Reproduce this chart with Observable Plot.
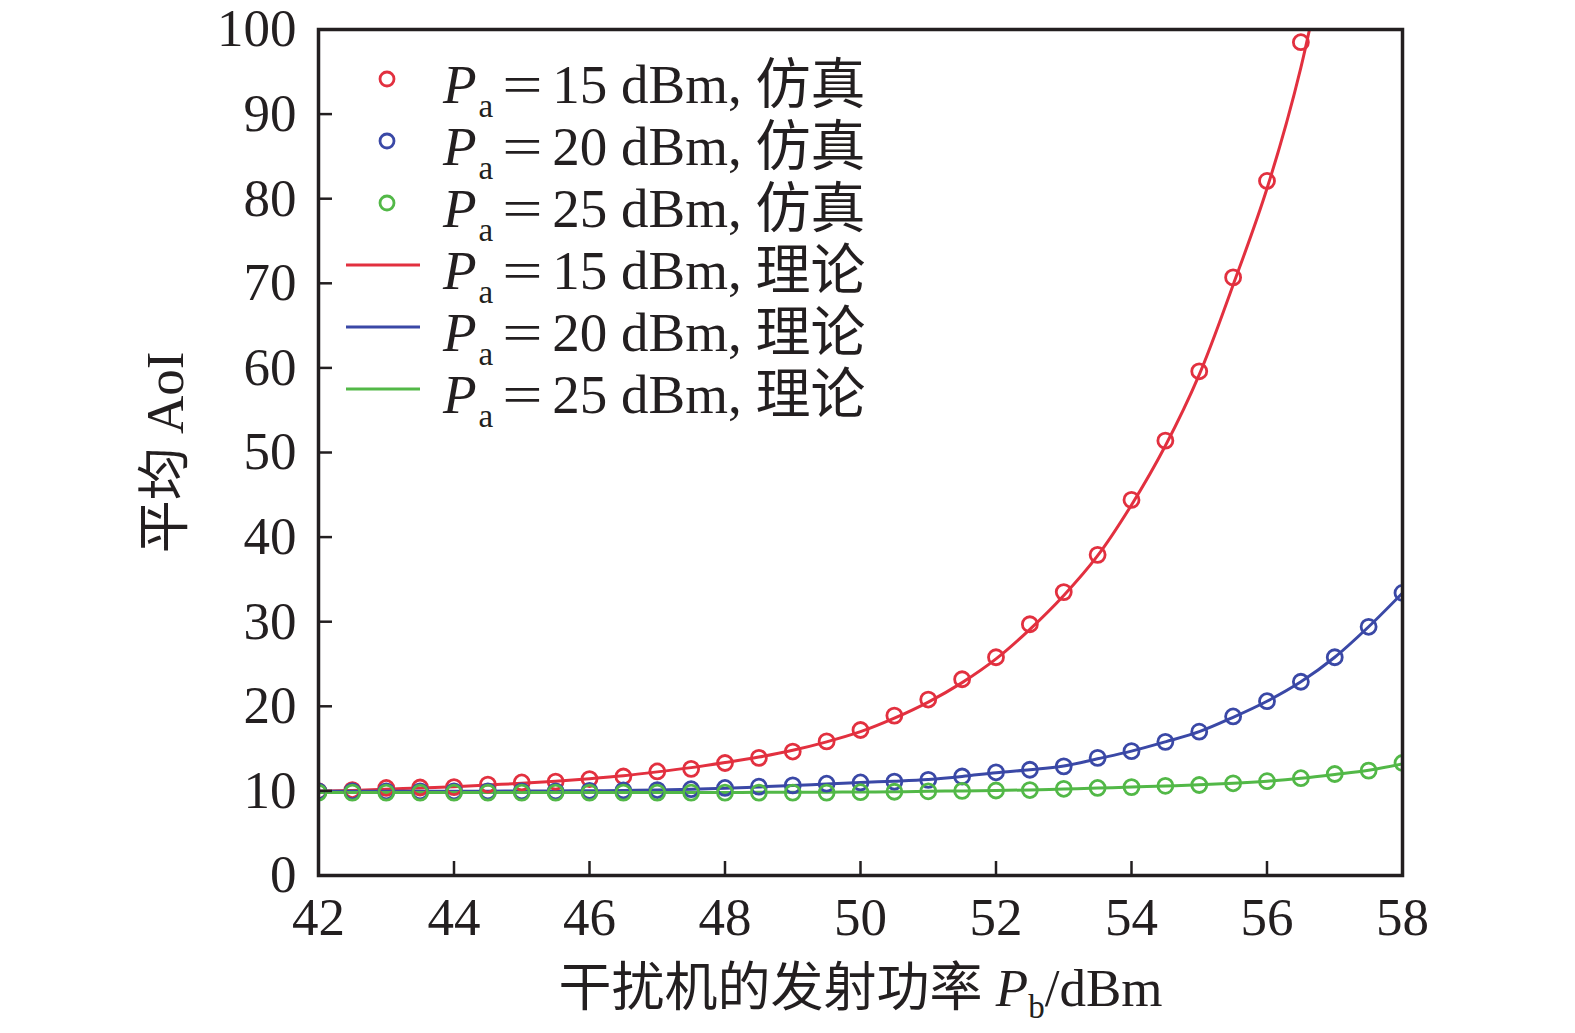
<!DOCTYPE html>
<html>
<head>
<meta charset="utf-8">
<script src="https://cdn.jsdelivr.net/npm/d3@7"></script>
<script src="https://cdn.jsdelivr.net/npm/@observablehq/plot@0.6"></script>
<style>
  html, body { margin: 0; padding: 0; background: #fff; }
  #wrap { position: relative; width: 1575px; height: 1033px; }
  #wrap svg { overflow: visible; }
  #legend { position: absolute; left: 340px; top: 48px; font-family: "Liberation Serif", "Noto Sans CJK SC", serif; font-size: 55px; color: #231f20; }
  #legend .row { height: 62px; display: flex; align-items: center; white-space: nowrap; }
  #legend svg { width: 103px; height: 62px; flex: none; }
  #legend .P { font-style: italic; }
  #legend sub { font-size: 33px; vertical-align: -14px; line-height: 0; margin-left: 2px; margin-right: 14px; }
  #legend .eq { display: inline-block; transform: scaleX(1.3); margin-right: 14px; }
</style>
</head>
<body>
<div id="wrap"></div>
<script>
const pb = [42,42.5,43,43.5,44,44.5,45,45.5,46,46.5,47,47.5,48,48.5,49,49.5,50,50.5,51,51.5,52,52.5,53,53.5,54,54.5,55,55.5,56,56.5,57,57.5,58];

const sim15 = [9.96,10.1,10.35,10.4,10.45,10.75,11.0,11.1,11.4,11.7,12.3,12.6,13.3,13.9,14.65,15.85,17.2,18.9,20.8,23.2,25.8,29.7,33.5,37.9,44.4,51.4,59.6,70.7,82.1,98.5];
const sim20 = [9.95,9.95,9.95,9.95,9.95,9.95,9.95,9.95,10.0,10.05,10.1,10.2,10.35,10.5,10.65,10.85,11.0,11.1,11.3,11.7,12.2,12.5,12.9,13.9,14.7,15.8,17.0,18.8,20.6,22.9,25.8,29.4,33.4];
const sim25 = [9.8,9.8,9.8,9.8,9.8,9.8,9.8,9.8,9.8,9.8,9.8,9.8,9.8,9.8,9.8,9.8,9.85,9.9,9.95,10.0,10.05,10.1,10.25,10.35,10.45,10.6,10.7,10.9,11.15,11.5,12.0,12.4,13.3];

const theory15 = [9.95,10.05,10.2,10.35,10.5,10.7,10.9,11.15,11.45,11.8,12.25,12.75,13.35,14.0,14.8,15.8,17.0,18.6,20.5,22.8,25.6,29.1,33.1,37.8,43.8,50.8,59.2,69.8,81.2,95.5,115];
const theory20 = [9.95,9.95,9.95,9.95,9.95,9.97,9.98,10.0,10.02,10.05,10.1,10.2,10.32,10.47,10.63,10.82,11.0,11.15,11.35,11.7,12.15,12.5,12.95,13.8,14.7,15.8,17.0,18.7,20.6,22.9,25.8,29.4,33.4];
const theory25 = [9.8,9.8,9.8,9.8,9.8,9.8,9.8,9.8,9.8,9.8,9.8,9.82,9.82,9.83,9.84,9.85,9.87,9.9,9.95,10.0,10.05,10.12,10.22,10.33,10.45,10.58,10.72,10.9,11.15,11.5,11.95,12.45,13.2];

const seriesNames = ["15", "20", "25"];
const colors = ["#e2303f", "#3a48a6", "#52b847"];
const xTicks = [42,44,46,48,50,52,54,56,58];
const yTicks = [0,10,20,30,40,50,60,70,80,90,100];

const simSets = [sim15, sim20, sim25];
const theorySets = [theory15, theory20, theory25];
const simRows = [], theoryRows = [];
seriesNames.forEach((s, i) => {
  simSets[i].forEach((v, j) => simRows.push({pb: pb[j], aoi: v, s}));
  theorySets[i].forEach((v, j) => theoryRows.push({pb: pb[j], aoi: v, s}));
});

const font = "'Liberation Serif', 'Noto Sans CJK SC', serif";

const chart = Plot.plot({
  width: 1575,
  height: 1033,
  marginLeft: 318,
  marginRight: 173,
  marginTop: 29,
  marginBottom: 158,
  style: {fontFamily: font, fontSize: "54px", color: "#231f20", background: "#fff"},
  x: {domain: [42, 58]},
  y: {domain: [0, 100]},
  color: {domain: seriesNames, range: colors},
  marks: [
    Plot.line(theoryRows, {x: "pb", y: "aoi", z: "s", stroke: "s", strokeWidth: 3, curve: "catmull-rom", clip: true}),
    Plot.dot(simRows, {x: "pb", y: "aoi", stroke: "s", r: 7.5, strokeWidth: 2.8, fill: "none", clip: true}),
    Plot.axisX({ticks: xTicks, tickSize: -14, tickPadding: 36, strokeWidth: 2.5, fontSize: 53, tickFormat: d => String(d),
      label: "干扰机的发射功率 P/dBm", labelAnchor: "center", labelOffset: 130}),
    Plot.axisY({ticks: yTicks, tickSize: -14, tickPadding: 36, strokeWidth: 2.5, fontSize: 53, tickFormat: d => String(d),
      label: "平均 AoI", labelAnchor: "center", labelOffset: 173}),
    Plot.frame({stroke: "#231f20", strokeWidth: 3.5})
  ]
});

document.getElementById("wrap").appendChild(chart);

// Rich text for the x axis label (italic P with subscript b)
const xl = d3.select(chart).select('g[aria-label="x-axis label"] text');
if (!xl.empty()) {
  xl.text(null);
  xl.append("tspan").text("干扰机的发射功率 ");
  xl.append("tspan").attr("font-style", "italic").text("P");
  xl.append("tspan").attr("font-size", "33px").attr("dy", "12").text("b");
  xl.append("tspan").attr("dy", "-12").text("/dBm");
}
const yl = d3.select(chart).select('g[aria-label="y-axis label"] text');
if (!yl.empty()) yl.text("平均 AoI");

// Legend inside the plot area
const legend = document.createElement("div");
legend.id = "legend";
const items = [];
seriesNames.forEach((s, i) => items.push({kind: "dot", s, color: colors[i], tag: "仿真"}));
seriesNames.forEach((s, i) => items.push({kind: "line", s, color: colors[i], tag: "理论"}));
items.forEach(it => {
  const row = document.createElement("div");
  row.className = "row";
  const sw = it.kind === "dot"
    ? `<svg viewBox="0 0 103 62"><circle cx="47" cy="31" r="7" fill="none" stroke="${it.color}" stroke-width="2.8"/></svg>`
    : `<svg viewBox="0 0 103 62"><line x1="6" x2="80" y1="31" y2="31" stroke="${it.color}" stroke-width="3.2"/></svg>`;
  row.innerHTML = sw + `<span><span class="P">P</span><sub>a</sub><span class="eq">=</span>${it.s} dBm, ${it.tag}</span>`;
  legend.appendChild(row);
});
document.getElementById("wrap").appendChild(legend);
</script>
</body>
</html>
